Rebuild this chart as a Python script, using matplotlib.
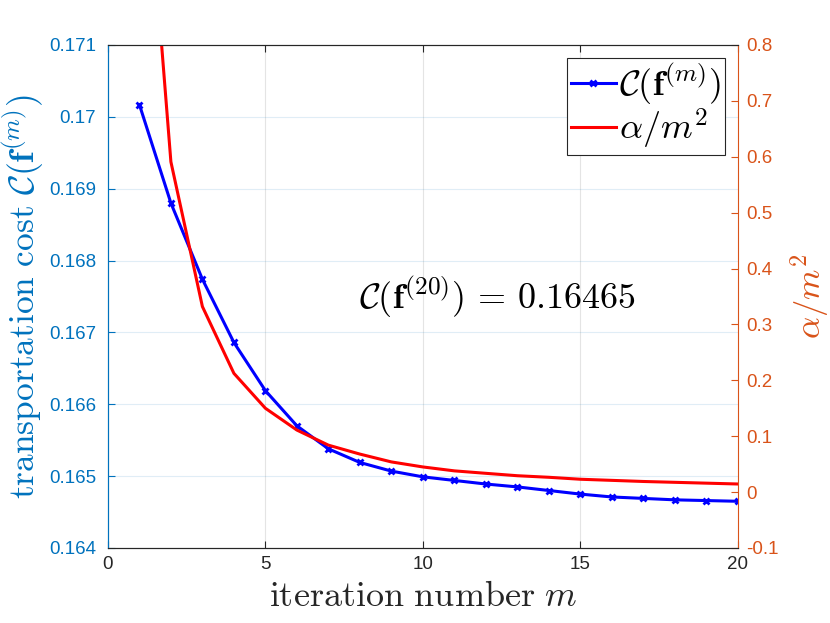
import matplotlib
matplotlib.use("Agg")
import matplotlib.pyplot as plt
from matplotlib.ticker import FuncFormatter

plt.rcParams['font.family'] = ['Liberation Sans', 'DejaVu Sans']
plt.rcParams['mathtext.fontset'] = 'cm'

# values
iters = list(range(1, 21))
cost = [0.17017, 0.16880, 0.16774, 0.16686, 0.16619, 0.16570, 0.16538, 0.16519,
        0.16507, 0.16499, 0.16494, 0.16489, 0.16485, 0.16480, 0.16475, 0.16471,
        0.16469, 0.16467, 0.16466, 0.16465]
step = [1.30, 0.591, 0.332, 0.2125, 0.150, 0.111, 0.084, 0.068, 0.054, 0.045,
        0.038, 0.0336, 0.0293, 0.0265, 0.023, 0.021, 0.019, 0.0175, 0.016, 0.0145]

xticks = [0, 5, 10, 15, 20]
left_ticks = [0.164, 0.165, 0.166, 0.167, 0.168, 0.169, 0.170, 0.171]
right_ticks = [-0.1, 0, 0.1, 0.2, 0.3, 0.4, 0.5, 0.6, 0.7, 0.8]

blue_axis = (0.0, 0.447, 0.741)
orange_axis = (0.85, 0.325, 0.098)
dark = (0.15, 0.15, 0.15)

fig = plt.figure(figsize=(8.3, 6.23), dpi=100)
ax = fig.add_axes([0.130, 0.1204, 0.759, 0.8074])
ax2 = ax.twinx()

l1, = ax.plot(iters, cost, color='blue', lw=2.2, marker='x', ms=5, mew=2, label=r'$\mathcal{C}(\mathbf{f}^{(m)})$')
l2, = ax2.plot(iters, step, color='red', lw=2.2, label=r'$\alpha/m^2$')

ax.set_xlim(0, 20)
ax.set_ylim(0.164, 0.171)
ax2.set_ylim(-0.1, 0.8)
ax.set_xticks(xticks)
ax.set_yticks(left_ticks)
ax2.set_yticks(right_ticks)
fmt = FuncFormatter(lambda v, p: f"{v:g}")
ax.yaxis.set_major_formatter(fmt)
ax2.yaxis.set_major_formatter(fmt)

# grid: vertical gray, horizontal tinted with left axis colour
for x in xticks[1:-1]:
    ax.axvline(x, color=dark, alpha=0.12, lw=0.8, zorder=0)
for y in left_ticks[1:-1]:
    ax.axhline(y, color=blue_axis, alpha=0.12, lw=0.8, zorder=0)

ax.tick_params(axis='x', direction='in', length=5, colors=dark, labelsize=13.5, top=True, pad=6)
ax.tick_params(axis='y', direction='in', length=5, colors=blue_axis, labelsize=13.5, pad=8.5)
ax2.tick_params(axis='y', direction='in', length=5, colors=orange_axis, labelsize=13.5, pad=6)

ax.spines['top'].set_color(dark)
ax.spines['bottom'].set_color(dark)
ax2.spines['top'].set_color(dark)
ax2.spines['bottom'].set_color(dark)
ax2.spines['left'].set_color(blue_axis)
ax2.spines['right'].set_color(orange_axis)
ax.spines['left'].set_color(blue_axis)
ax.spines['right'].set_visible(False)

ax.set_xlabel(r'$\mathrm{iteration\ number}\ m$', fontsize=26, color=dark, labelpad=4)
ax.set_ylabel(r'$\mathrm{transportation\ cost}\ \mathcal{C}(\mathbf{f}^{(m)})$', fontsize=25.5,
              color=blue_axis, labelpad=2)
ax2.set_ylabel(r'$\alpha/m^2$', fontsize=25, color=orange_axis, labelpad=7)

ax.text(12.37, 0.16749, r'$\mathcal{C}(\mathbf{f}^{(20)})\,=\,0.16465$', fontsize=26,
        ha='center', va='center', color='black')

leg = ax2.legend(handles=[l1, l2], loc='upper right', fontsize=26, fancybox=False,
                 edgecolor=dark, framealpha=1, handlelength=1.25, handletextpad=0.1,
                 borderpad=0.1, labelspacing=0.0, borderaxespad=0.35)
leg.get_frame().set_linewidth(0.8)

fig.savefig("out.png", dpi=100)
